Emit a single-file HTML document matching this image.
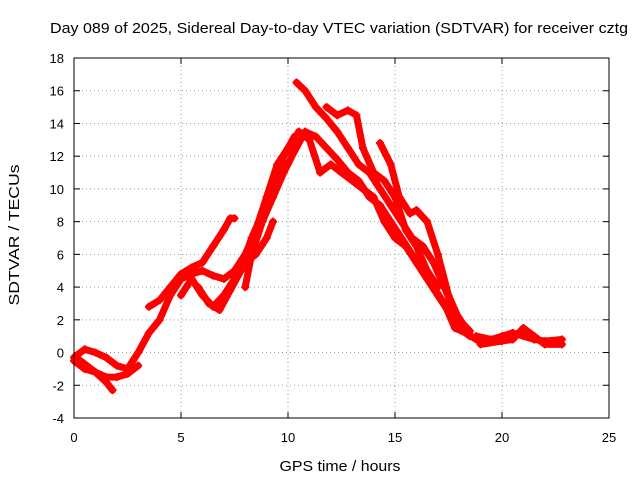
<!DOCTYPE html>
<html><head><meta charset="utf-8"><style>
body{margin:0;background:#fff;}
svg{display:block;font-family:"Liberation Sans",sans-serif;}
</style></head><body>
<svg id="chart" width="640" height="480">
<text x="339" y="33" text-anchor="middle" font-size="15" textLength="578" lengthAdjust="spacingAndGlyphs">Day 089 of 2025, Sidereal Day-to-day VTEC variation (SDTVAR) for receiver cztg</text>
<text x="340" y="471" text-anchor="middle" font-size="15" textLength="121" lengthAdjust="spacingAndGlyphs">GPS time / hours</text>
<text transform="translate(19,235) rotate(-90)" text-anchor="middle" font-size="15" textLength="141" lengthAdjust="spacingAndGlyphs">SDTVAR / TECUs</text>
<g id="grid"></g><g id="axes"></g><g id="marks"></g>
<rect x="74" y="58" width="535" height="360" fill="none" stroke="#000"/>
</svg>
<script>
const xTicks=[0,5,10,15,20,25];
const yTicks=[-4,-2,0,2,4,6,8,10,12,14,16,18];
const s1=[[0,-0.3],[0.5,0.2],[1,0],[1.5,-0.3],[2,-0.8],[2.5,-1],[3,0],[3.5,1.2],[4,2],[4.5,3.5],[5,4.5],[5.5,4.8],[6,5],[6.5,4.7],[7,4.5],[7.5,5],[8,6],[8.5,7.5],[9,9.5],[9.5,11.5],[10,12.5],[10.3,13.2]];
const s2=[[0,-0.5],[0.5,-1],[1,-1.2],[1.5,-1.5],[2,-1.5],[2.5,-1.3],[3,-0.8]];
const s3=[[0.3,-0.5],[1,-1.2],[1.5,-1.8],[1.8,-2.3]];
const s4=[[3.5,2.8],[4,3.2],[4.5,4],[5,4.8],[5.5,5.2],[6,5.5],[6.5,6.5],[7,7.5],[7.3,8.2],[7.5,8.2]];
const s5=[[5,3.5],[5.5,4.5],[6,3.5],[6.5,2.8],[7,3.5],[7.5,4.5],[8,5.5],[8.5,6],[9,7],[9.3,8]];
const s6=[[5.8,4],[6.3,3],[6.8,2.6],[7.3,3.8],[7.8,5],[8.3,7],[8.8,8.5],[9.3,10],[9.8,12],[10.3,13]];
const s7=[[8,4],[8.3,6],[8.8,8],[9.3,9.5],[9.8,11],[10.3,12.3],[10.8,13.5],[11.3,13.2],[11.8,12.5],[12.3,11.8],[12.8,11],[13.3,10.5],[13.8,9.5],[14.3,9],[14.8,8],[15.3,7],[15.8,6],[16.3,5],[16.8,4],[17.3,3],[17.8,1.5],[18.3,1.2],[18.8,0.8],[19.3,0.8]];
const s8=[[10.4,16.5],[10.8,16],[11.3,15],[11.8,14.3],[12.3,13.5],[12.8,12.5],[13.3,11.5],[13.8,11],[14.3,10],[14.8,9],[15.3,8],[15.8,7],[16.3,6.5],[16.8,5.5],[17.3,4],[17.8,2.5],[18.3,1.5]];
const s9=[[10.5,13.5],[11,13],[11.5,11],[12,11.5],[12.5,11],[13,10.5],[13.5,10],[14,9.5],[14.5,8],[15,7],[15.5,6.5],[16,5.5],[16.5,4.5],[17,3.5],[17.5,2.5],[18,1.5],[18.5,1]];
const s10=[[11.8,15],[12.3,14.5],[12.8,14.8],[13.2,14.5],[13.5,12.5],[14,11],[14.5,10.5],[15,9.5],[15.5,7.5],[16,6.5],[16.5,5],[17,4]];
const s11=[[14.3,12.8],[14.8,11.5],[15.2,9.5],[15.7,8.5],[16,8.7],[16.5,8],[17,6],[17.5,3.5],[18,2],[18.5,1.3]];
const s12=[[18.8,1],[19.5,0.8],[20,1],[20.5,1.2],[21,1],[21.5,0.8],[22,0.7],[22.8,0.8]];
const s13=[[19,0.5],[20,0.7],[20.5,0.8],[21,1.5],[21.5,1],[22,0.5],[22.8,0.5]];
const series=[s1,s2,s3,s4,s5,s6,s7,s8,s9,s10,s11,s12,s13];
const X=v=>74+v*(535/25), Y=v=>418-(v+4)*(360/22);
const NS="http://www.w3.org/2000/svg";
const grid=document.getElementById('grid'),axes=document.getElementById('axes'),marks=document.getElementById('marks');
function mk(t,a,p){const e=document.createElementNS(NS,t);for(const k in a)e.setAttribute(k,a[k]);p.appendChild(e);return e;}
xTicks.forEach(t=>{const x=X(t);
 if(t>0&&t<25){const g=mk('line',{x1:x,x2:x,y1:58,y2:418,stroke:'#999','stroke-dasharray':'1,3'},grid);
 
 }
 mk('line',{x1:x,x2:x,y1:418,y2:412,stroke:'#000'},axes);mk('line',{x1:x,x2:x,y1:58,y2:64,stroke:'#000'},axes);
 const l=mk('text',{x:x,y:442,'text-anchor':'middle','font-size':13},axes);l.textContent=t;
 
 });
yTicks.forEach(t=>{const y=Y(t);
 if(t>-4&&t<18){const g=mk('line',{x1:74,x2:609,y1:y,y2:y,stroke:'#999','stroke-dasharray':'1,3'},grid);
 
 }
 mk('line',{x1:74,x2:80,y1:y,y2:y,stroke:'#000'},axes);mk('line',{x1:609,x2:603,y1:y,y2:y,stroke:'#000'},axes);
 const l=mk('text',{x:64,y:y+5,'text-anchor':'end','font-size':13},axes);l.textContent=t;
 
 });
series.forEach((s,i)=>{
 const p=mk('polyline',{points:s.map(d=>X(d[0])+','+Y(d[1])).join(' '),fill:'none',stroke:'#f00','stroke-width':7,'stroke-linejoin':'round','stroke-linecap':'round'},marks);
 
 
 s.forEach(d=>{const x=X(d[0]),y=Y(d[1]);
  const m=mk('path',{d:`M${x-4},${y}H${x+4}M${x},${y-4}V${y+4}`,stroke:'#f00','stroke-width':2},marks);
  
  });
});
</script>
</body></html>
